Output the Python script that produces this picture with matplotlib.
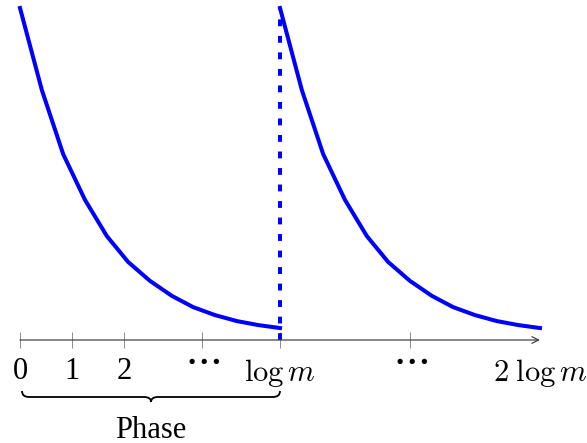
import matplotlib
matplotlib.use('Agg')
import matplotlib.pyplot as plt
from matplotlib.path import Path
from matplotlib.patches import PathPatch
from matplotlib.transforms import ScaledTranslation

# one phase of the decaying curve (x in units, log m = 5)
phase_x = [0, 0.42, 0.83, 1.25, 1.67, 2.08, 2.5, 2.92, 3.33, 3.75, 4.17, 4.58, 5.0]
phase_y = [100, 75.3, 56, 42.2, 31.3, 23.5, 17.8, 13.3, 9.9, 7.5, 5.7, 4.5, 3.6]
log_m = 5
tick_pos = [0, 1, 2, 3.5, 5, 7.5, 10]
tick_labels = ['0', '1', '2', r'$\cdots$', r'$\log m$', r'$\cdots$', r'$2\;\log m$']

plt.rcParams['mathtext.fontset'] = 'cm'
plt.rcParams['font.family'] = ['Liberation Serif', 'DejaVu Serif']

fig = plt.figure(figsize=(5.87, 4.43), dpi=100)
W, H = 587, 443
ax = fig.add_axes([20 / W, (H - 340) / H, 520 / W, 340 / H])
ax.set_xlim(0, 10)
ax.set_ylim(0, 340 / 3.32)

blue = '#0000ff'
ax.plot(phase_x, phase_y, color=blue, lw=2.9, clip_on=False)
ax.plot([x + log_m for x in phase_x], phase_y, color=blue, lw=2.9, clip_on=False)
ax.plot([log_m, log_m], [0, phase_y[0]], color=blue, lw=2.9,
        dashes=(1.7, 2.4), dash_capstyle='butt', clip_on=False)

# axis line with arrow
for s in ax.spines.values():
    s.set_visible(False)
ax.annotate('', xy=(10, 0), xytext=(0, 0),
            arrowprops=dict(arrowstyle='->', lw=0.9, color='#444444',
                            shrinkA=0, shrinkB=0, mutation_scale=12))
ax.set_yticks([])
ax.set_xticks(tick_pos)
ax.set_xticklabels(tick_labels, fontsize=22)
ax.tick_params(axis='x', direction='inout', length=11, width=0.6,
               color='#777777', pad=7)
ax.xaxis.get_major_ticks()[-1].tick1line.set_visible(False)
shift = ScaledTranslation(0, -3 / 100, fig.dpi_scale_trans)
for i in (3, 5):
    lab = ax.get_xticklabels()[i]
    lab.set_fontsize(30)
    lab.set_va('center')
    lab.set_transform(lab.get_transform() + shift)

# brace + label on a pixel overlay
ov = fig.add_axes([0, 0, 1, 1])
ov.set_xlim(0, W)
ov.set_ylim(H, 0)
ov.axis('off')
x0, x1, xm = 22, 280, 151
yt, yb, ytip = 391, 397, 402
r = 7
verts = [(x0, yt), (x0, yb), (x0 + r, yb),
         (xm - r, yb), (xm, yb), (xm, ytip),
         (xm, yb), (xm + r, yb),
         (x1 - r, yb), (x1, yb), (x1, yt)]
codes = [Path.MOVETO, Path.CURVE3, Path.CURVE3,
         Path.LINETO, Path.CURVE3, Path.CURVE3,
         Path.CURVE3, Path.CURVE3,
         Path.LINETO, Path.CURVE3, Path.CURVE3]
ov.add_patch(PathPatch(Path(verts, codes), fill=False, lw=1.3, color='black'))
ov.text(xm, 430, 'Phase', fontsize=22, ha='center', va='center')

fig.savefig('out.png', dpi=100)
